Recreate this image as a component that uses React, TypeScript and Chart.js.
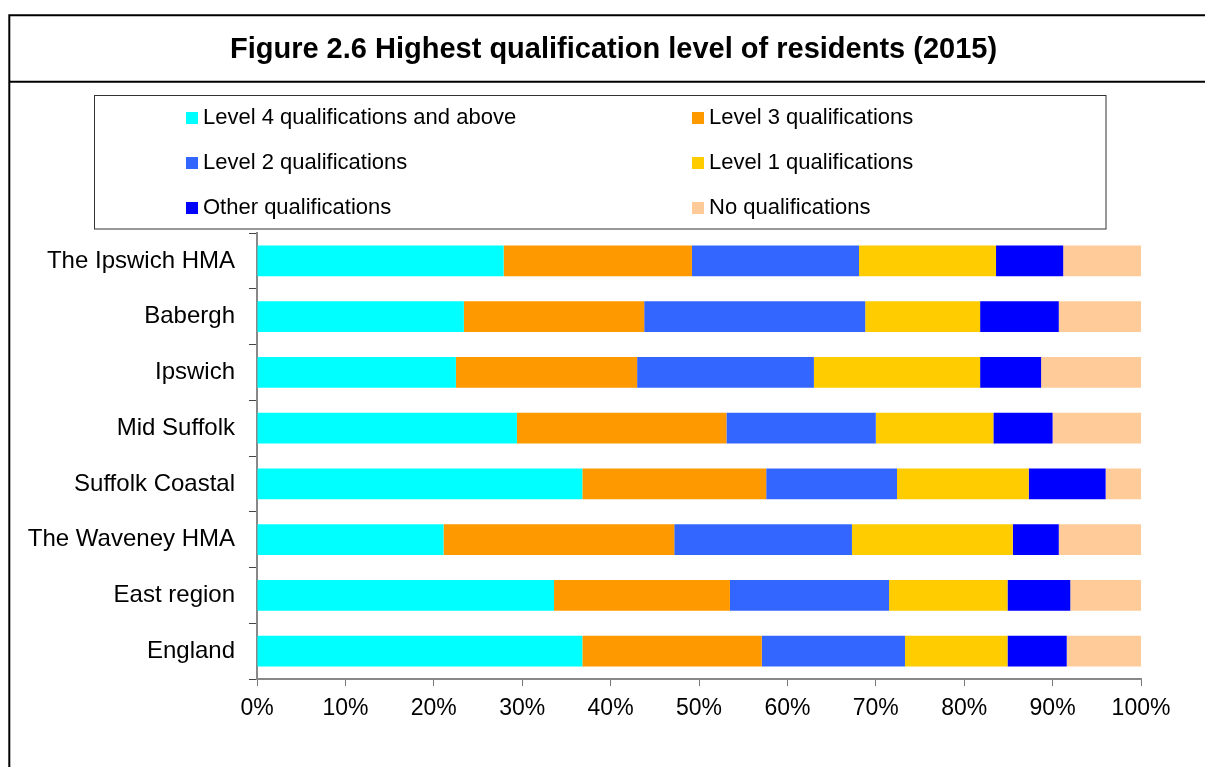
import React, { useEffect, useRef } from "react";
import { Chart, registerables } from "chart.js";

Chart.register(...registerables);

const titleText = "Figure 2.6 Highest qualification level of residents (2015)";
const categories = [
  "The Ipswich HMA",
  "Babergh",
  "Ipswich",
  "Mid Suffolk",
  "Suffolk Coastal",
  "The Waveney HMA",
  "East region",
  "England",
];
const level4 = [27.9, 23.4, 22.5, 29.4, 36.8, 21.1, 33.6, 36.8];
const level3 = [21.3, 20.4, 20.5, 23.7, 20.8, 26.1, 19.9, 20.3];
const level2 = [18.9, 25.0, 20.0, 16.9, 14.8, 20.1, 18.0, 16.2];
const level1 = [15.5, 13.0, 18.8, 13.3, 14.9, 18.2, 13.4, 11.6];
const otherQual = [7.6, 8.9, 6.9, 6.7, 8.7, 5.2, 7.1, 6.7];
const noQual = [8.8, 9.3, 11.3, 10.0, 4.0, 9.3, 8.0, 8.4];

const seriesLabels = [
  "Level 4 qualifications and above",
  "Level 3 qualifications",
  "Level 2 qualifications",
  "Level 1 qualifications",
  "Other qualifications",
  "No qualifications",
];
const seriesColors = ["#00FFFF", "#FF9900", "#3366FF", "#FFCC00", "#0000FF", "#FFCC99"];
const xTicks = [0, 10, 20, 30, 40, 50, 60, 70, 80, 90, 100];

const FONT = "'Liberation Sans', Arial, Helvetica, sans-serif";

const framePlugin = {
  id: "framePlugin",
  beforeDraw(chart: any) {
    const ctx = chart.ctx;
    const W = chart.width;
    const H = chart.height;
    ctx.save();
    ctx.fillStyle = "#ffffff";
    ctx.fillRect(0, 0, W, H);
    // outer frame
    ctx.strokeStyle = "#000000";
    ctx.lineWidth = 2;
    ctx.beginPath();
    ctx.moveTo(9.3, H + 5);
    ctx.lineTo(9.3, 15.3);
    ctx.lineTo(W + 5, 15.3);
    ctx.stroke();
    // title separator
    ctx.beginPath();
    ctx.moveTo(9.3, 81.7);
    ctx.lineTo(W + 5, 81.7);
    ctx.stroke();
    // title
    ctx.fillStyle = "#000000";
    ctx.font = `bold 29px ${FONT}`;
    ctx.textAlign = "center";
    ctx.textBaseline = "alphabetic";
    ctx.fillText(titleText, 613.5, 58);
    // legend box
    ctx.lineWidth = 1;
    ctx.strokeStyle = "#333333";
    ctx.strokeRect(94.5, 95.5, 1011.5, 133.5);
    // legend items
    const colX = [186, 692];
    const rowBase = [123.5, 168.5, 213.5];
    ctx.font = `22px ${FONT}`;
    ctx.textAlign = "left";
    chart.data.datasets.forEach((ds: any, i: number) => {
      const col = i % 2;
      const row = Math.floor(i / 2);
      const x = colX[col];
      const b = rowBase[row];
      ctx.fillStyle = ds.backgroundColor;
      ctx.fillRect(x, b - 11.5, 12, 12);
      ctx.fillStyle = "#000000";
      ctx.fillText(ds.label, x + 17, b);
    });
    ctx.restore();
  },
};

export default function App() {
  const canvasRef = useRef<HTMLCanvasElement | null>(null);

  useEffect(() => {
    document.body.style.margin = "0";
    const canvas = canvasRef.current;
    if (!canvas) return;
    const seriesValues = [level4, level3, level2, level1, otherQual, noQual];
    const chart = new Chart(canvas, {
      type: "bar",
      data: {
        labels: categories,
        datasets: seriesValues.map((vals, i) => ({
          label: seriesLabels[i],
          data: vals,
          backgroundColor: seriesColors[i],
          borderWidth: 0,
          barPercentage: 0.555,
          categoryPercentage: 1,
        })),
      },
      options: {
        indexAxis: "y",
        responsive: false,
        animation: false,
        devicePixelRatio: 1,
        layout: { padding: { left: 0, top: 233, right: 64, bottom: 28 } },
        plugins: {
          legend: { display: false },
          title: { display: false },
          tooltip: { enabled: false },
        },
        scales: {
          x: {
            type: "linear",
            stacked: true,
            min: 0,
            max: 100,
            afterFit: (scale: any) => {
              scale.height = 60;
            },
            afterBuildTicks: (scale: any) => {
              scale.ticks = xTicks.map((v) => ({ value: v }));
            },
            ticks: {
              autoSkip: false,
              maxRotation: 0,
              padding: 9,
              color: "#000000",
              font: { family: FONT, size: 23 },
              callback: (v: any) => `${v}%`,
            },
            grid: {
              drawOnChartArea: false,
              drawTicks: true,
              tickLength: 7,
              color: "#777777",
              lineWidth: 1,
            },
            border: { display: true, color: "#888888", width: 2 },
          },
          y: {
            type: "category",
            stacked: true,
            offset: true,
            afterFit: (scale: any) => {
              scale.width = 257;
            },
            ticks: {
              autoSkip: false,
              padding: 14,
              color: "#000000",
              font: { family: FONT, size: 24 },
            },
            grid: {
              offset: true,
              drawOnChartArea: false,
              drawTicks: true,
              tickLength: 8,
              color: "#444444",
              lineWidth: 1,
            },
            border: { display: true, color: "#888888", width: 2 },
          },
        },
      },
      plugins: [framePlugin],
    });
    return () => {
      chart.destroy();
    };
  }, []);

  return (
    <div style={{ position: "absolute", left: 0, top: 0, width: 1205, height: 767 }}>
      <canvas ref={canvasRef} width={1205} height={767} style={{ width: 1205, height: 767, display: "block" }} />
    </div>
  );
}
